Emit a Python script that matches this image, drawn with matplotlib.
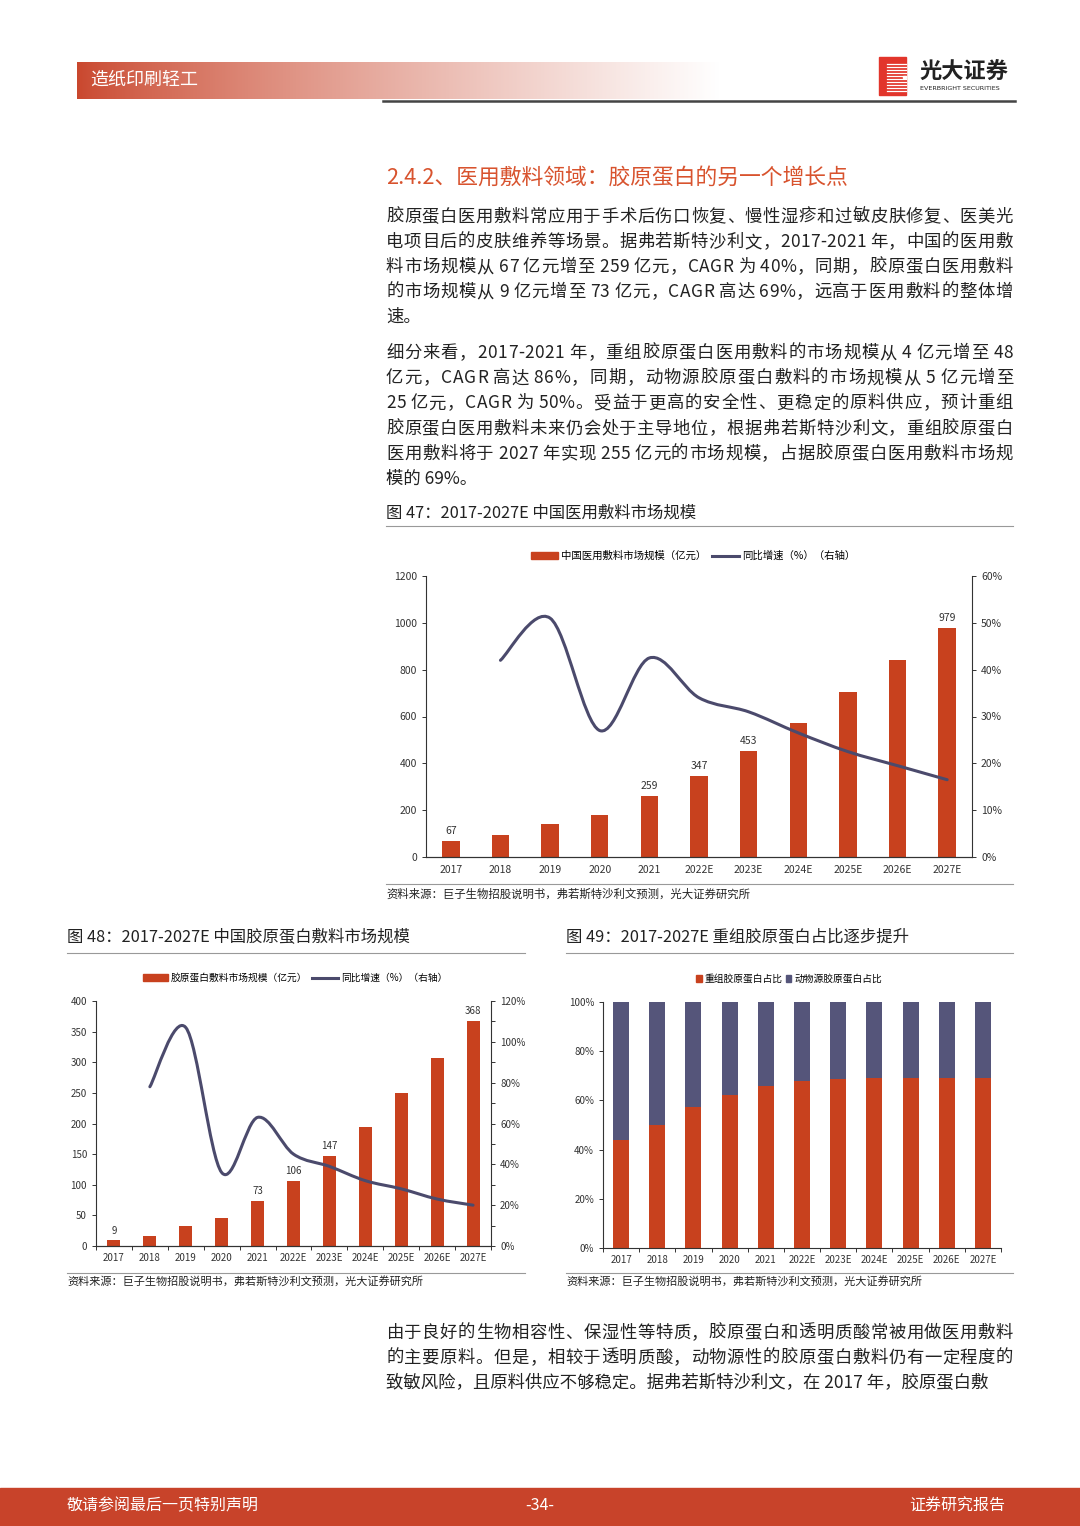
import numpy as np
import matplotlib
matplotlib.use("Agg")
import matplotlib.pyplot as plt
from matplotlib.path import Path
from matplotlib.patches import PathPatch, Patch, Rectangle
from matplotlib.lines import Line2D

plt.rcParams['font.family'] = ['Noto Sans CJK SC', 'DejaVu Sans']

# ---- 数据 ----
years = ["2017", "2018", "2019", "2020", "2021", "2022E", "2023E",
         "2024E", "2025E", "2026E", "2027E"]
# 图47 中国医用敷料市场规模（亿元）与同比增速
dressing_size = [67, 94, 142, 180, 259, 347, 453, 573, 705, 842, 979]
dressing_growth = [42.0, 51.0, 27.0, 42.5, 34.0, 31.0, 26.5, 22.5, 19.5, 16.5]
dressing_labels = [0, 4, 5, 6, 10]
# 图48 胶原蛋白敷料市场规模（亿元）与同比增速
collagen_size = [9, 16, 33, 46, 73, 106, 147, 195, 249, 307, 368]
collagen_growth = [78.0, 107.0, 36.0, 63.0, 45.0, 39.0, 32.0, 28.0, 23.0, 20.0]
collagen_labels = [0, 4, 5, 6, 10]
# 图49 重组/动物源胶原蛋白占比（%）
recomb_share = [44.0, 50.0, 57.5, 62.0, 66.0, 68.0, 68.5, 69.0, 69.0, 69.0, 69.0]
animal_share = [100 - v for v in recomb_share]

source = "资料来源：巨子生物招股说明书，弗若斯特沙利文预测，光大证券研究所"
para1 = ["胶原蛋白医用敷料常应用于手术后伤口恢复、慢性湿疹和过敏皮肤修复、医美光",
         "电项目后的皮肤维养等场景。据弗若斯特沙利文，2017-2021 年，中国的医用敷",
         "料市场规模从 67 亿元增至 259 亿元，CAGR 为 40%，同期，胶原蛋白医用敷料",
         "的市场规模从 9 亿元增至 73 亿元，CAGR 高达 69%，远高于医用敷料的整体增",
         "速。"]
para2 = ["细分来看，2017-2021 年，重组胶原蛋白医用敷料的市场规模从 4 亿元增至 48",
         "亿元，CAGR 高达 86%，同期，动物源胶原蛋白敷料的市场规模从 5 亿元增至",
         "25 亿元，CAGR 为 50%。受益于更高的安全性、更稳定的原料供应，预计重组",
         "胶原蛋白医用敷料未来仍会处于主导地位，根据弗若斯特沙利文，重组胶原蛋白",
         "医用敷料将于 2027 年实现 255 亿元的市场规模，占据胶原蛋白医用敷料市场规",
         "模的 69%。"]
para3 = ["由于良好的生物相容性、保湿性等特质，胶原蛋白和透明质酸常被用做医用敷料",
         "的主要原料。但是，相较于透明质酸，动物源性的胶原蛋白敷料仍有一定程度的",
         "致敏风险，且原料供应不够稳定。据弗若斯特沙利文，在 2017 年，胶原蛋白敷"]

RED = "#C8411E"
NAVY = "#4B4A6C"
PURPLE = "#55557A"
TXT = "#222222"
AX = "#333333"

W, H = 1080, 1526
fig = plt.figure(figsize=(W / 100, H / 100), dpi=100)
renderer = fig.canvas.get_renderer()


def fx(x):
    return x / W


def fy(y):
    return 1 - y / H


def rect(l, t, r, b):
    return [l / W, 1 - b / H, (r - l) / W, (b - t) / H]


def hline(x0, x1, y, color="#999999", lw=0.8):
    fig.add_artist(Line2D([fx(x0), fx(x1)], [fy(y), fy(y)], transform=fig.transFigure,
                          color=color, lw=lw))


def twidth(s, size):
    t = fig.text(0, 0, s, fontsize=size)
    w = t.get_window_extent(renderer).width
    t.remove()
    return w


def draw_line(s, x0, x1, y, size, justify=True, color=TXT):
    if not justify:
        fig.text(fx(x0), fy(y), s, fontsize=size, color=color, va="center")
        return
    bar = twidth("|", size)
    pos = [0.0] + [twidth(s[:k] + "|", size) - bar for k in range(1, len(s))]
    wlast = twidth(s[-1], size)
    scale = (x1 - x0 - wlast) / pos[-1]
    for k, ch in enumerate(s):
        if ch == " ":
            continue
        fig.text(fx(x0 + pos[k] * scale), fy(y), ch, fontsize=size, color=color, va="center")


def draw_para(lines, x0, x1, y0, step, size=12.5):
    for i, s in enumerate(lines):
        draw_line(s, x0, x1, y0 + i * step, size, justify=(i < len(lines) - 1))


def smooth(ax, xs, ys, color, lw):
    P = np.column_stack([xs, ys]).astype(float)
    verts = [P[0]]
    codes = [Path.MOVETO]
    n = len(P)
    for i in range(n - 1):
        p0 = P[i - 1] if i > 0 else P[i]
        p1, p2 = P[i], P[i + 1]
        p3 = P[i + 2] if i + 2 < n else P[i + 1]
        verts += [p1 + (p2 - p0) / 6, p2 - (p3 - p1) / 6, p2]
        codes += [Path.CURVE4] * 3
    ax.add_patch(PathPatch(Path(verts, codes), fill=False, color=color, lw=lw,
                           capstyle="round", joinstyle="round"))


# ---- 页眉 ----
hdr = fig.add_axes(rect(77, 62, 720, 99))
grad = np.linspace(0, 1, 256)
c0 = np.array([0.79, 0.28, 0.18])
img = c0[None, :] * (1 - grad[:, None] ** 0.8) + np.ones(3)[None, :] * grad[:, None] ** 0.8
hdr.imshow(img[None, :, :], aspect="auto", extent=[0, 1, 0, 1])
hdr.axis("off")
fig.text(fx(90), fy(80), "造纸印刷轻工", fontsize=13, color="white", va="center")
hline(383, 1015, 101, color="#444444", lw=1.8)

# logo
fig.add_artist(Rectangle((fx(879), fy(95)), (906 - 879) / W, 38 / H,
                         transform=fig.transFigure, color="#E2352B"))
for yy in range(64, 92, 3):
    fig.add_artist(Line2D([fx(887), fx(906)], [fy(yy), fy(yy)], transform=fig.transFigure,
                          color="white", lw=0.9))
fig.add_artist(Rectangle((fx(903), fy(78)), 3 / W, 2 / H, transform=fig.transFigure,
                         color="white"))
fig.text(fx(919), fy(72), "光大证券", fontsize=16, weight="bold", color="#222222", va="center")
fig.text(fx(920), fy(89), "EVERBRIGHT SECURITIES", fontsize=4.6, color="#222222", va="center",
         family="DejaVu Sans")

# ---- 正文 ----
fig.text(fx(386), fy(178), "2.4.2、医用敷料领域：胶原蛋白的另一个增长点", fontsize=15.7,
         color="#D8532E", va="center")
draw_para(para1, 386, 1013, 217, 25)
draw_para(para2, 386, 1013, 353, 25.2)
draw_para(para3, 386, 1013, 1333, 25)

# ---- 图47 ----
fig.text(fx(386), fy(513), "图 47：2017-2027E 中国医用敷料市场规模", fontsize=11.8,
         color=TXT, va="center")
hline(386, 1013, 526)
x = np.arange(len(years))
ax1 = fig.add_axes(rect(426, 576, 972, 857))
ax1.bar(x, dressing_size, width=0.35, color=RED, zorder=2)
ax1.set_xlim(-0.5, len(years) - 0.5)
ax1.set_ylim(0, 1200)
ax1.set_yticks(np.arange(0, 1201, 200))
ax1.set_xticks(x)
ax1.set_xticklabels(years)
for i in dressing_labels:
    ax1.text(x[i], dressing_size[i] + 22, str(dressing_size[i]), ha="center", va="bottom",
             fontsize=7.5, color=AX)
ax2 = ax1.twinx()
ax2.set_ylim(0, 60)
ax2.set_yticks(np.arange(0, 61, 10))
ax2.set_yticklabels([f"{v}%" for v in range(0, 61, 10)])
smooth(ax2, x[1:], dressing_growth, NAVY, 2.2)
for a in (ax1, ax2):
    a.spines["top"].set_visible(False)
    for s in ("left", "right", "bottom"):
        a.spines[s].set_color(AX)
        a.spines[s].set_linewidth(0.8)
    a.tick_params(labelsize=7.5, colors=AX, length=3, width=0.7)
ax1.spines["right"].set_visible(False)
ax2.spines["left"].set_visible(False)
ax1.tick_params(axis="x", length=0, pad=6)
fig.legend(handles=[Patch(color=RED, label="中国医用敷料市场规模（亿元）"),
                    Line2D([], [], color=NAVY, lw=2.2, label="同比增速（%）（右轴）")],
           loc="center", bbox_to_anchor=(fx(693), fy(556)), ncol=2, frameon=False,
           fontsize=7.5, handlelength=2.6, handleheight=0.6, columnspacing=0.5,
           handletextpad=0.3)
hline(386, 1013, 884)
fig.text(fx(386), fy(894), source, fontsize=8.2, color=TXT, va="center")

# ---- 图48 ----
fig.text(fx(67), fy(938), "图 48：2017-2027E 中国胶原蛋白敷料市场规模", fontsize=11.8,
         color=TXT, va="center")
hline(67, 525, 953)
ax3 = fig.add_axes(rect(96, 1001, 491, 1246))
ax3.bar(x, collagen_size, width=0.36, color=RED, zorder=2)
ax3.set_xlim(-0.5, len(years) - 0.5)
ax3.set_ylim(0, 400)
ax3.set_yticks(np.arange(0, 401, 50))
ax3.set_xticks(x)
ax3.set_xticklabels(years)
ax3.set_xticks(np.arange(-0.5, len(years), 1), minor=True)
for i in collagen_labels:
    ax3.text(x[i], collagen_size[i] + 8, str(collagen_size[i]), ha="center", va="bottom",
             fontsize=7, color=AX)
ax4 = ax3.twinx()
ax4.set_ylim(0, 120)
ax4.set_yticks(np.arange(0, 121, 20))
ax4.set_yticks(np.arange(0, 121, 10), minor=True)
ax4.set_yticklabels([f"{v}%" for v in range(0, 121, 20)])
smooth(ax4, x[1:], collagen_growth, NAVY, 2.2)
for a in (ax3, ax4):
    a.spines["top"].set_visible(False)
    for s in ("left", "right", "bottom"):
        a.spines[s].set_color(AX)
        a.spines[s].set_linewidth(0.8)
    a.tick_params(labelsize=7, colors=AX, length=3, width=0.7)
    a.tick_params(which="minor", length=3, width=0.7, colors=AX)
ax3.spines["right"].set_visible(False)
ax4.spines["left"].set_visible(False)
ax3.tick_params(axis="x", which="major", length=0, pad=5)
fig.legend(handles=[Patch(color=RED, label="胶原蛋白敷料市场规模（亿元）"),
                    Line2D([], [], color=NAVY, lw=2.2, label="同比增速（%）（右轴）")],
           loc="center", bbox_to_anchor=(fx(295), fy(978)), ncol=2, frameon=False,
           fontsize=7, handlelength=2.6, handleheight=0.6, columnspacing=0.5,
           handletextpad=0.3)
hline(67, 525, 1273)
fig.text(fx(67), fy(1282), source, fontsize=8, color=TXT, va="center")

# ---- 图49 ----
fig.text(fx(566), fy(938), "图 49：2017-2027E 重组胶原蛋白占比逐步提升", fontsize=11.8,
         color=TXT, va="center")
hline(566, 1013, 953)
ax5 = fig.add_axes(rect(603, 1002, 1001, 1248))
ax5.bar(x, recomb_share, width=0.44, color=RED, zorder=2)
ax5.bar(x, animal_share, bottom=recomb_share, width=0.44, color=PURPLE, zorder=2)
ax5.set_xlim(-0.5, len(years) - 0.5)
ax5.set_ylim(0, 100)
ax5.set_yticks(np.arange(0, 101, 20))
ax5.set_yticklabels([f"{v}%" for v in range(0, 101, 20)])
ax5.set_xticks(x)
ax5.set_xticklabels(years)
ax5.set_xticks(np.arange(-0.5, len(years), 1), minor=True)
for s in ("top", "right"):
    ax5.spines[s].set_visible(False)
for s in ("left", "bottom"):
    ax5.spines[s].set_color(AX)
    ax5.spines[s].set_linewidth(0.8)
ax5.tick_params(labelsize=7, colors=AX, length=3, width=0.7)
ax5.tick_params(which="minor", length=3, width=0.7, colors=AX)
ax5.tick_params(axis="x", which="major", length=0, pad=5)
fig.legend(handles=[Patch(color=RED, label="重组胶原蛋白占比"),
                    Patch(color=PURPLE, label="动物源胶原蛋白占比")],
           loc="center", bbox_to_anchor=(fx(789), fy(979)), ncol=2, frameon=False,
           fontsize=7, handlelength=0.6, handleheight=0.6, columnspacing=0.3,
           handletextpad=0.3)
hline(566, 1013, 1273)
fig.text(fx(566), fy(1282), source, fontsize=8, color=TXT, va="center")

# ---- 页脚 ----
fig.add_artist(Rectangle((0, 0), 1, 38 / H, transform=fig.transFigure, color="#C8432A"))
fig.text(fx(67), fy(1506), "敬请参阅最后一页特别声明", fontsize=11.5, color="white", va="center")
fig.text(0.5, fy(1506), "-34-", fontsize=11.5, color="white", va="center", ha="center")
fig.text(fx(1005), fy(1506), "证券研究报告", fontsize=11.5, color="white", va="center", ha="right")

fig.savefig("out.png", dpi=100)
